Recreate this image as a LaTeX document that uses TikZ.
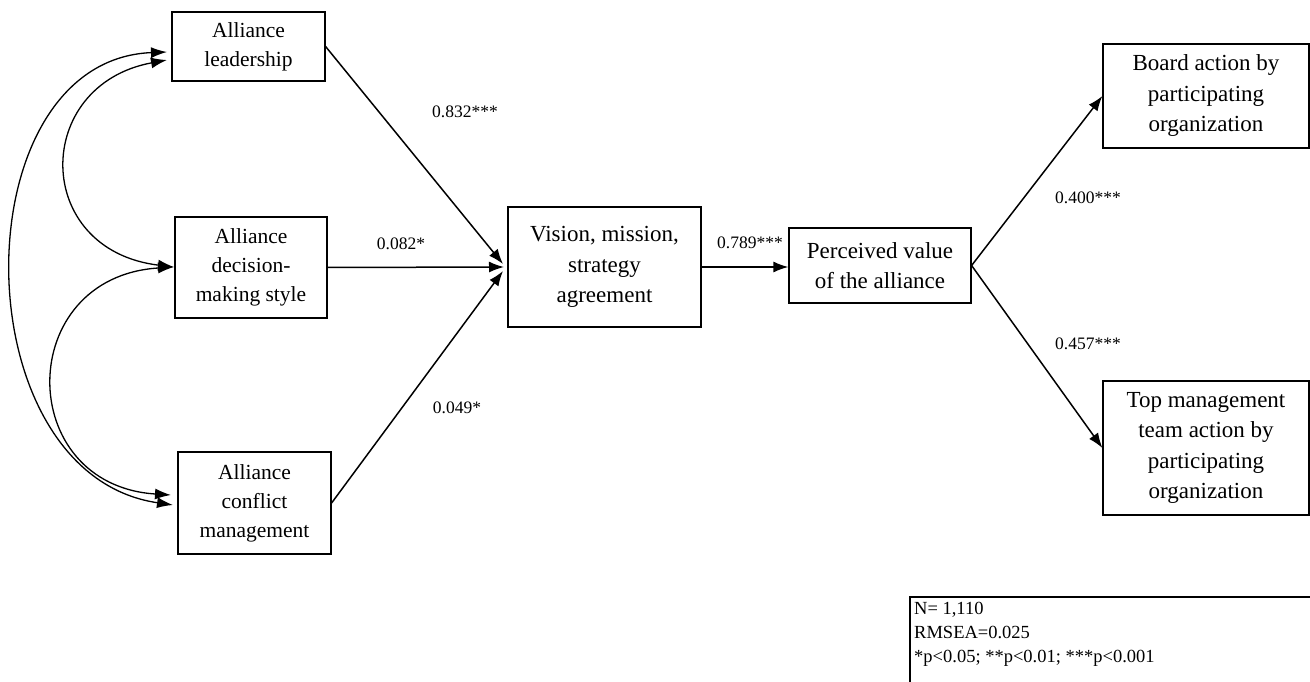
\documentclass[tikz,border=0pt]{standalone}
\usepackage{fontspec}
\setmainfont{Liberation Serif}
\usetikzlibrary{arrows.meta}
\begin{document}
\begin{tikzpicture}[x=1pt,y=-1pt,
  lbox/.style={draw, line width=1.2pt, inner sep=0pt, align=center, font=\fontsize{21.5}{29}\selectfont},
  rbox/.style={draw, line width=1.2pt, inner sep=0pt, align=center, font=\fontsize{23}{30.5}\selectfont},
  path/.style={line width=1.5pt, -{Latex[length=15pt,width=11pt]}},
  cov/.style={line width=1.3pt, {Latex[length=16pt,width=11pt]}-{Latex[length=16pt,width=11pt]}},
  coef/.style={font=\fontsize{17.5}{20}\selectfont, inner sep=0pt}]
\useasboundingbox (0,0) rectangle (1310,682);

% boxes
\node[lbox, minimum width=153pt, minimum height=69pt] (lead) at (248.5,46.5) {Alliance\\leadership};
\node[lbox, minimum width=152pt, minimum height=101pt] (dec) at (251,267.5) {Alliance\\decision-\\making style};
\node[lbox, minimum width=153pt, minimum height=102pt] (conf) at (254.5,503) {Alliance\\conflict\\management};
\node[rbox, minimum width=193pt, minimum height=120pt] (vis) at (604.5,267) {Vision, mission,\\strategy\\agreement};
\node[rbox, minimum width=182pt, minimum height=75pt] (perc) at (880,265.5) {Perceived value\\of the alliance};
\node[rbox, minimum width=206pt, minimum height=104pt] (board) at (1206,96) {Board action by\\participating\\organization};
\node[rbox, minimum width=206pt, minimum height=134pt] (top) at (1206,448) {Top management\\team action by\\participating\\organization};

% arrow tips near vision box
\coordinate (tl) at (503,264);
\coordinate (tm) at (504,267);
\coordinate (tb) at (503,271);

\draw[path] (lead.east) -- (tl);
\draw[path] (dec.east) -- (tm);
\draw[path] (conf.east) -- (tb);
\draw[path] (vis.east) -- (vis.east -| perc.west);
\draw[path] (perc.east) -- (board.west);
\draw[path] (perc.east) -- (top.west);

% covariance arcs
\coordinate (lu) at (167,52);
\coordinate (ll) at (167,60);
\coordinate (dm) at (174,267);
\coordinate (cu) at (171,495);
\coordinate (cl) at (173,505);
\draw[cov] (lu) .. controls (-40,60) and (-40,474) .. (cl);
\draw[cov] (ll) .. controls (32,85) and (32,250) .. (dm);
\draw[cov] (dm) .. controls (14,277) and (14,485) .. (cu);

% coefficients
\node[coef] (c1) at (465,112) {0.832***};
\node[coef] (c2) at (401,244) {0.082*};
\node[coef] (c3) at (457,408) {0.049*};
\node[coef] (c4) at (750,243) {0.789***};
\node[coef] (c5) at (1088,198) {0.400***};
\node[coef] (c6) at (1088,344) {0.457***};

% legend
\coordinate (lgA) at (910,682);
\coordinate (lgB) at (910,597);
\coordinate (lgC) at (1310,597);
\draw[line width=1.1pt] (lgA) -- (lgB) -- (lgC);
\node[anchor=north west, inner sep=0pt, align=left, font=\fontsize{18.5}{24}\selectfont] (leg) at (914,602)
  {N= 1,110\\RMSEA=0.025\\*p<0.05; **p<0.01; ***p<0.001};
\end{tikzpicture}
\end{document}
